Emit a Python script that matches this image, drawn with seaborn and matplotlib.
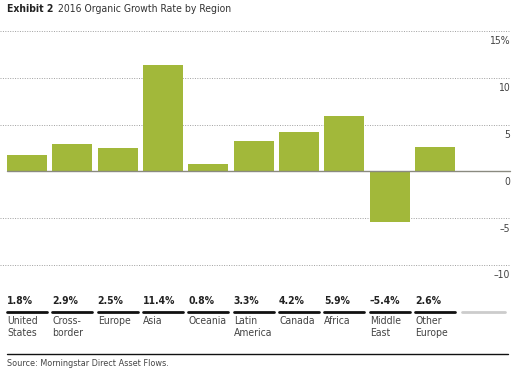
import matplotlib
matplotlib.use("Agg")
import matplotlib.pyplot as plt
import matplotlib.transforms as mtransforms
from matplotlib import font_manager
import seaborn as sns
import pandas as pd

regions = ["United\nStates", "Cross-\nborder", "Europe", "Asia", "Oceania",
           "Latin\nAmerica", "Canada", "Africa", "Middle\nEast", "Other\nEurope"]
growth = [1.8, 2.9, 2.5, 11.4, 0.8, 3.3, 4.2, 5.9, -5.4, 2.6]
value_labels = ["1.8%", "2.9%", "2.5%", "11.4%", "0.8%", "3.3%", "4.2%", "5.9%", "\u20135.4%", "2.6%"]
yticks = [15, 10, 5, 0, -5, -10]
ytick_labels = ["15%", "10", "5", "0", "\u20135", "\u201310"]

sns.set_theme(style="white")
fonts = font_manager.fontManager.ttflist
names = {f.name for f in fonts}
if "Liberation Sans Narrow" in names:
    fam, stretch = "Liberation Sans Narrow", "normal"
else:
    fam, stretch = "DejaVu Sans", "condensed"
plt.rcParams["font.family"] = [fam, "DejaVu Sans"]
plt.rcParams["font.stretch"] = stretch

W, H = 524, 381
fig = plt.figure(figsize=(W / 100, H / 100), dpi=100)
ax = fig.add_axes([0 / W, 1 - 265 / H, 510 / W, (265 - 31) / H])

df = pd.DataFrame({"region": list(range(len(regions))), "growth": growth})
green = "#a2b83a"
ax.bar(df["region"], df["growth"], width=0.88, color=green, edgecolor="none", zorder=2)

ax.set_xlim(-0.596, 10.655)
ax.set_ylim(-10, 15)
for s in ax.spines.values():
    s.set_visible(False)
ax.set_xticks([])
ax.set_yticks([])
for v in yticks:
    if v == 0:
        ax.plot([-0.44, 10.655], [0, 0], color="#8a8a80", lw=1.0, zorder=3, clip_on=False)
    else:
        ax.axhline(v, color="#a0a0a0", lw=0.7, ls=(0, (1, 1.5)), zorder=1, clip_on=False)
for v, lab in zip(yticks, ytick_labels):
    ax.annotate(lab, xy=(1.0, v), xycoords=("axes fraction", "data"),
                xytext=(0, -7.5), textcoords="offset points",
                ha="right", va="center", fontsize=7.5, color="#444444")

# Title
t1 = fig.text(7 / W, 1 - 9 / H, "Exhibit 2", fontsize=7.5, fontweight="bold", color="#222222",
              ha="left", va="center")
fig.canvas.draw()
bb = t1.get_window_extent(renderer=fig.canvas.get_renderer())
fig.text((bb.x1 + 5) / W, 1 - 9 / H, "2016 Organic Growth Rate by Region", fontsize=7.5,
         color="#333333", ha="left", va="center")

# Bottom table
trans = mtransforms.blended_transform_factory(ax.transData, fig.transFigure)
hw = 0.44
for i, (lab, name) in enumerate(zip(value_labels, regions)):
    fig.text(i - hw, 1 - 301 / H, lab, transform=trans, fontsize=7.5, fontweight="bold",
             color="#222222", ha="left", va="center")
    fig.add_artist(plt.Line2D([i - hw, i + hw], [1 - 312 / H] * 2, transform=trans,
                              color="#111111", lw=2.0))
    fig.text(i - hw, 1 - 316.5 / H, name, transform=trans, fontsize=7.5, color="#444444",
             ha="left", va="top", linespacing=1.15)
n = len(regions)
fig.add_artist(plt.Line2D([n - hw + 0.03, n + hw + 0.1], [1 - 312 / H] * 2, transform=trans,
                          color="#cccccc", lw=2.0))
fig.add_artist(plt.Line2D([7 / W, 508 / W], [1 - 354 / H] * 2, color="#111111", lw=1.0))
fig.text(7 / W, 1 - 363 / H, "Source: Morningstar Direct Asset Flows.", fontsize=6.5,
         color="#444444", ha="left", va="center")

fig.savefig("out.png", dpi=100)
